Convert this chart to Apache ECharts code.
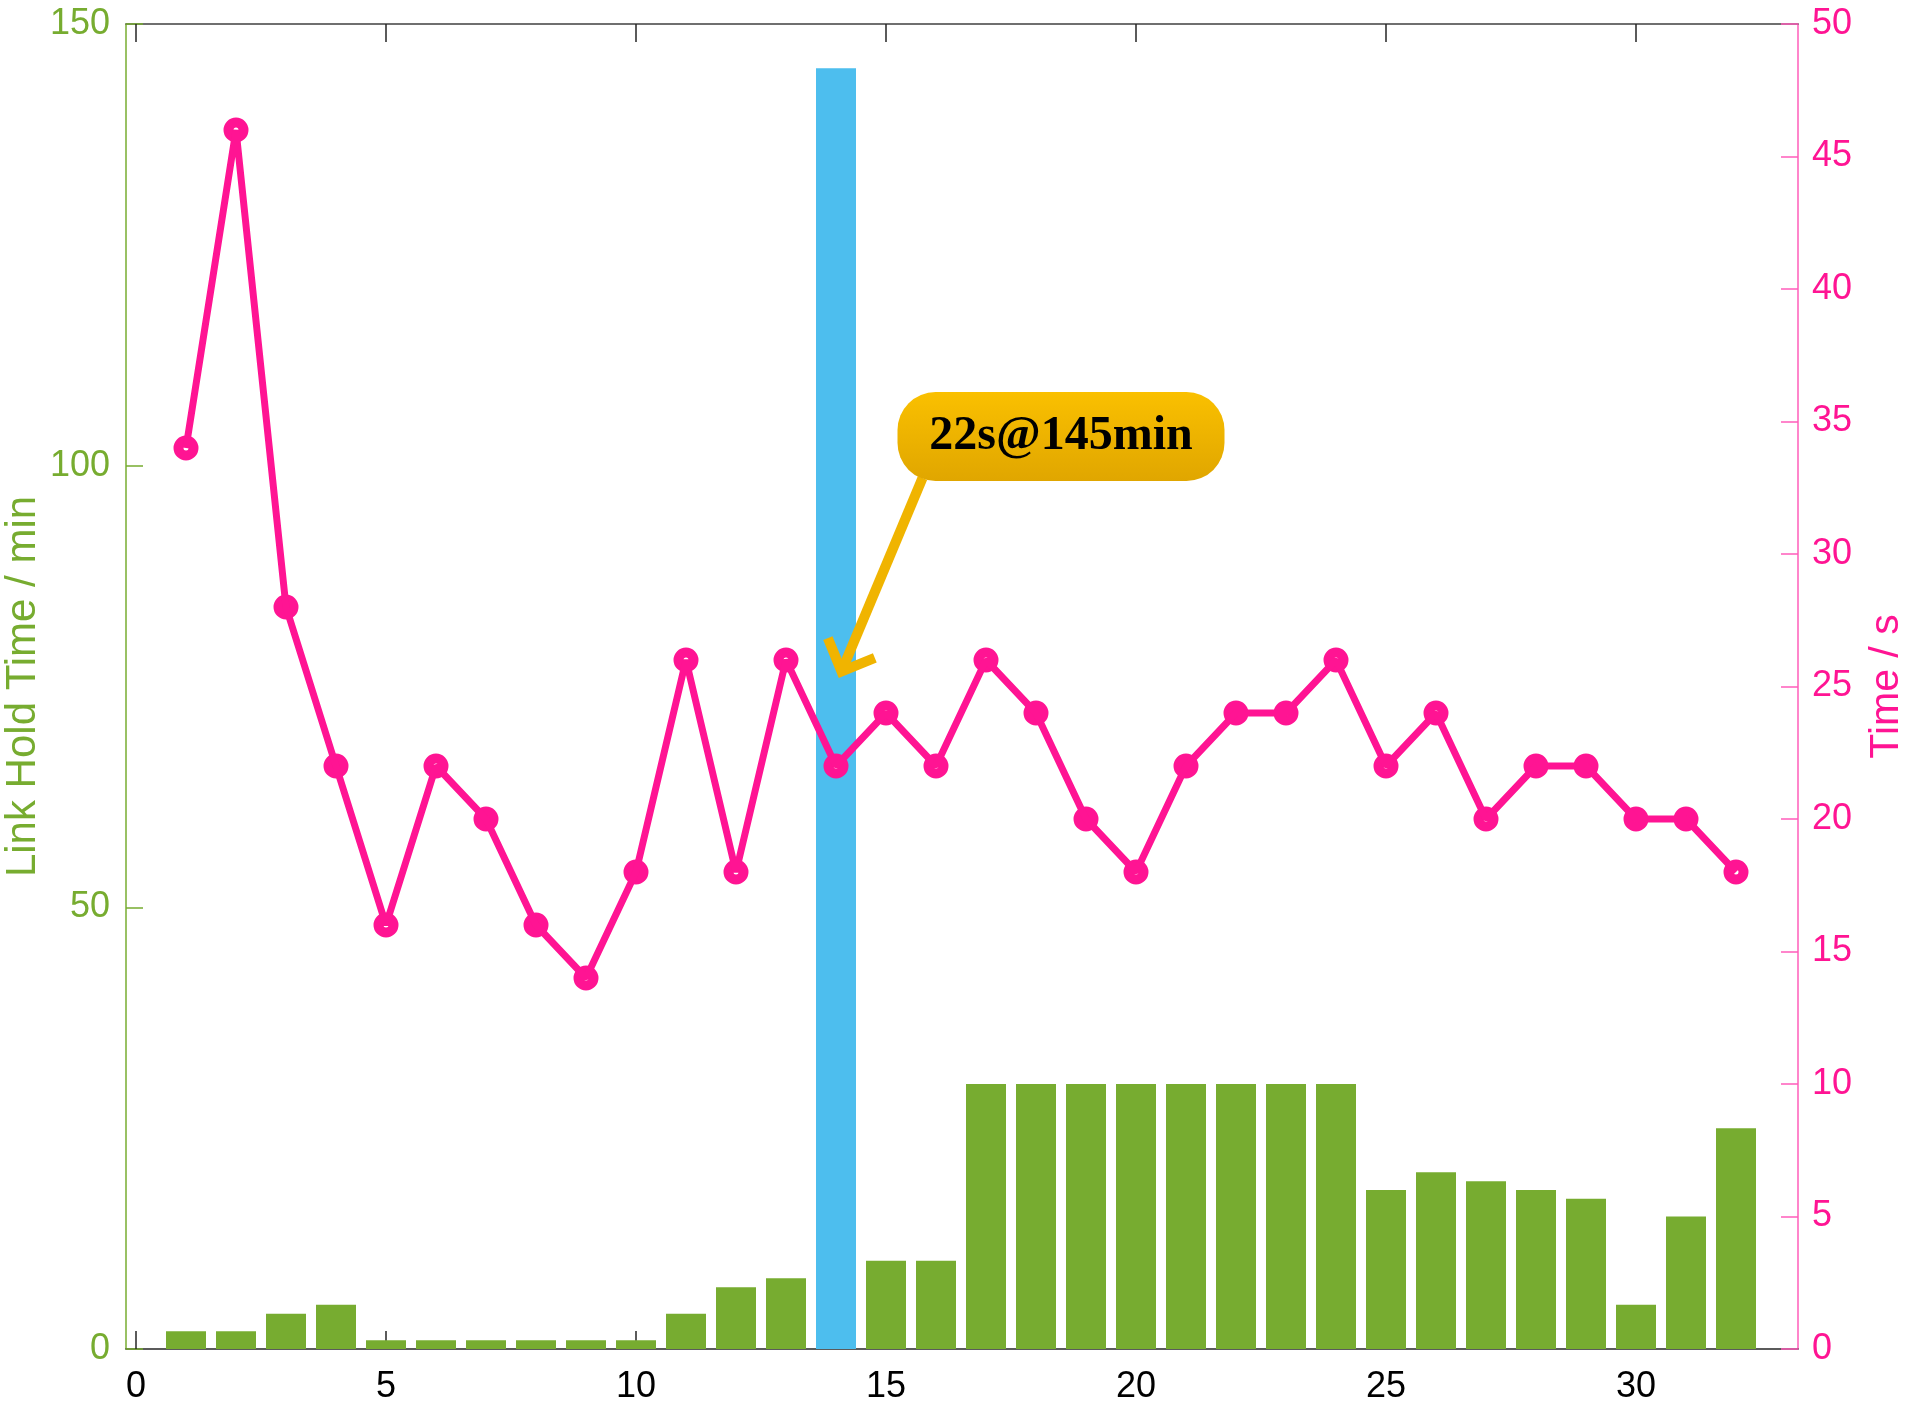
<!DOCTYPE html>
<html>
<head>
<meta charset="utf-8">
<script src="https://cdn.jsdelivr.net/npm/echarts@6/dist/echarts.min.js"></script>
<style>
html,body{margin:0;padding:0;background:#fff;}
#chart{width:1909px;height:1417px;}
</style>
</head>
<body>
<div id="chart"></div>
<script>
// ---- data ----
const xValues = [1,2,3,4,5,6,7,8,9,10,11,12,13,14,15,16,17,18,19,20,21,22,23,24,25,26,27,28,29,30,31,32];
const holdTimeMin = [2,2,4,5,1,1,1,1,1,1,4,7,8,145,10,10,30,30,30,30,30,30,30,30,18,20,19,18,17,5,15,25];
const timeSec = [34,46,28,22,16,22,20,16,14,18,26,18,26,22,24,22,26,24,20,18,22,24,24,26,22,24,20,22,22,20,20,18];
const xTicks = [0,5,10,15,20,25,30];
const highlightX = 14;
const annotationText = '22s@145min';
// annotation anchors in data units (x, left axis min)
const boxCenter = [18.5, 103.3];
const arrowStart = [15.73, 98.6];
const arrowTip = [14.11, 76.7];

// ---- styles ----
const GREEN = '#77AC30';
const BLUE = '#4DBEEE';
const PINK = '#FF1493';
const FONT = '"Liberation Sans", Arial, Helvetica, sans-serif';

const chart = echarts.init(document.getElementById('chart'), null, {renderer: 'canvas'});

const barData = xValues.map((x, i) => ({
  value: [x, holdTimeMin[i]],
  itemStyle: {color: x === highlightX ? BLUE : GREEN}
}));
const lineData = xValues.map((x, i) => [x, timeSec[i]]);

const option = {
  animation: false,
  backgroundColor: '#fff',
  grid: {left: 126, right: 111, top: 24, bottom: 68, containLabel: false, outerBoundsMode: 'none'},
  xAxis: [
    {
      type: 'value', position: 'bottom', min: -0.2, max: 33.24,
      axisLine: {show: true, onZero: false, lineStyle: {color: '#262626', width: 1.5}},
      axisTick: {show: true, inside: true, length: 18, customValues: xTicks, lineStyle: {color: '#262626', width: 1.5}},
      axisLabel: {show: true, customValues: xTicks, margin: 20, color: '#000', fontSize: 36, fontFamily: FONT},
      splitLine: {show: false}
    },
    {
      type: 'value', position: 'top', min: -0.2, max: 33.24,
      axisLine: {show: true, onZero: false, lineStyle: {color: '#404040', width: 1.5}},
      axisTick: {show: true, inside: true, length: 18, customValues: xTicks, lineStyle: {color: '#262626', width: 1.5}},
      axisLabel: {show: false},
      splitLine: {show: false}
    }
  ],
  yAxis: [
    {
      type: 'value', position: 'left', min: 0, max: 150, interval: 50,
      name: 'Link Hold Time / min', nameLocation: 'middle', nameGap: 82, nameRotate: 90,
      nameMoveOverlap: false,
      nameTextStyle: {color: GREEN, fontSize: 42, fontFamily: FONT},
      axisLine: {show: true, onZero: false, lineStyle: {color: GREEN, width: 1.5}},
      axisTick: {show: true, inside: true, length: 17, lineStyle: {color: GREEN, width: 1.5}},
      axisLabel: {color: GREEN, fontSize: 36, fontFamily: FONT, margin: 16},
      splitLine: {show: false}
    },
    {
      type: 'value', position: 'right', min: 0, max: 50, interval: 5,
      name: 'Time / s', nameLocation: 'middle', nameGap: 68, nameRotate: 90,
      nameMoveOverlap: false,
      nameTextStyle: {color: PINK, fontSize: 41, fontFamily: FONT},
      axisLine: {show: true, onZero: false, lineStyle: {color: '#FF5EBA', width: 1.5}},
      axisTick: {show: true, inside: true, length: 17, lineStyle: {color: '#FF5EBA', width: 1.5}},
      axisLabel: {color: PINK, fontSize: 36, fontFamily: FONT, margin: 14},
      splitLine: {show: false}
    }
  ],
  series: [
    {
      type: 'bar', xAxisIndex: 0, yAxisIndex: 0, barWidth: 40, data: barData, z: 1
    },
    {
      type: 'scatter', xAxisIndex: 0, yAxisIndex: 1, data: lineData,
      symbol: 'circle', symbolSize: 15,
      itemStyle: {color: '#fff', borderColor: PINK, borderWidth: 10, opacity: 1}, z: 2
    },
    {
      type: 'line', xAxisIndex: 0, yAxisIndex: 1, data: lineData, showSymbol: false,
      lineStyle: {color: PINK, width: 7}, z: 3
    }
  ]
};
chart.setOption(option);

// ---- annotation ----
const toPx = (pt) => chart.convertToPixel({xAxisIndex: 0, yAxisIndex: 0}, pt);
const c = toPx(boxCenter);
const s = toPx(arrowStart);
const t = toPx(arrowTip);
const dx = s[0] - t[0], dy = s[1] - t[1];
const len = Math.hypot(dx, dy);
const ux = dx / len, uy = dy / len;
const wingLen = 36;
const rot = (a) => [ux * Math.cos(a) - uy * Math.sin(a), ux * Math.sin(a) + uy * Math.cos(a)];
const r1 = rot(Math.PI / 4), r2 = rot(-Math.PI / 4);
const w1 = [t[0] + r1[0] * wingLen, t[1] + r1[1] * wingLen];
const w2 = [t[0] + r2[0] * wingLen, t[1] + r2[1] * wingLen];
const ARROW = '#F0B400';
const boxW = 327, boxH = 89;

chart.setOption({
  graphic: [
    {type: 'line', z: 100, shape: {x1: s[0], y1: s[1], x2: t[0], y2: t[1]},
     style: {stroke: ARROW, lineWidth: 10}},
    {type: 'polyline', z: 100, shape: {points: [w1, t, w2]},
     style: {stroke: ARROW, lineWidth: 10, lineJoin: 'miter', fill: null}},
    {type: 'rect', z: 101,
     shape: {x: c[0] - boxW / 2, y: c[1] - boxH / 2, width: boxW, height: boxH, r: 38},
     style: {fill: new echarts.graphic.LinearGradient(0, 0, 0, 1, [
       {offset: 0, color: '#FAC000'}, {offset: 1, color: '#E0A600'}])}},
    {type: 'text', z: 102,
     style: {text: annotationText, x: c[0], y: c[1], align: 'center', verticalAlign: 'middle',
             font: 'bold 48px "Liberation Serif", "Times New Roman", serif', fill: '#000'}}
  ]
});
</script>
</body>
</html>
